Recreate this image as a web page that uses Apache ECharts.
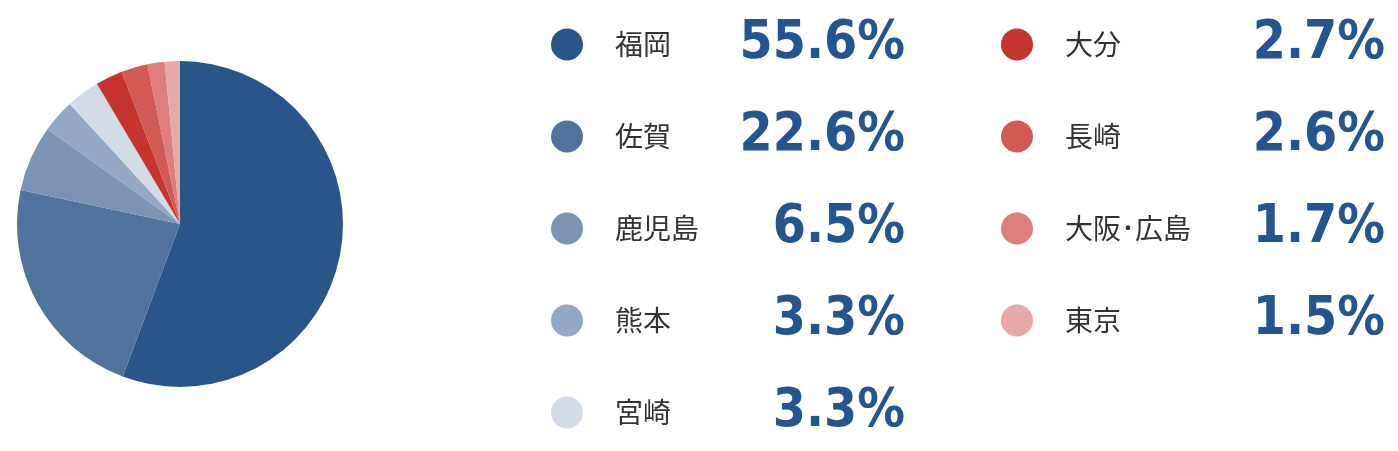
<!DOCTYPE html>
<html><head><meta charset="utf-8">
<script src="https://cdn.jsdelivr.net/npm/echarts@6/dist/echarts.min.js"></script>
<style>html,body{margin:0;padding:0;background:#fff}#c{width:1398px;height:451px}</style>
</head><body><div id="c"></div>
<script>
const categories = ['福岡','佐賀','鹿児島','熊本','宮崎','大分','長崎','大阪･広島','東京'];
const values = [55.6, 22.6, 6.5, 3.3, 3.3, 2.7, 2.6, 1.7, 1.5];
const colors = ['#2a5588','#50739c','#7b93b4','#92a8c4','#d3dbe7','#c5342e','#d15a55','#db7e7c','#e6a8a8'];
const leftCol = categories.slice(0,5);
const rightCol = categories.slice(5);

const valueOf = {};
categories.forEach((c,i)=>valueOf[c]=values[i]);

function legendFor(names, left, nameW){
  return {
    orient:'vertical', left:left, top:18, height:440, padding:0,
    itemWidth:32, itemHeight:32, itemGap:39,
    icon:'circle', selectedMode:false, data:names,
    formatter: n => '{s| }{n|'+n+'}{v|'+valueOf[n].toFixed(1)+'%}',
    textStyle:{ rich:{
      s:{width:27, lineHeight:50},
      n:{width:nameW, fontFamily:'Noto Sans CJK JP', fontSize:28, color:'#333', lineHeight:50},
      v:{width:150, align:'right', fontFamily:'DejaVu Sans Condensed', fontWeight:'bold', fontSize:53, color:'#24558f', lineHeight:50}
    }}
  };
}

const chart = echarts.init(document.getElementById('c'));
chart.setOption({
  animation:false,
  color: colors,
  legend:[legendFor(leftCol, 551, 140), legendFor(rightCol, 1001, 170)],
  series:[{
    type:'pie', center:[180,224], radius:163, startAngle:90, clockwise:true,
    label:{show:false}, labelLine:{show:false}, emphasis:{disabled:true},
    itemStyle:{borderWidth:0},
    data: categories.map((c,i)=>({name:c, value:values[i]}))
  }]
});
</script></body></html>
